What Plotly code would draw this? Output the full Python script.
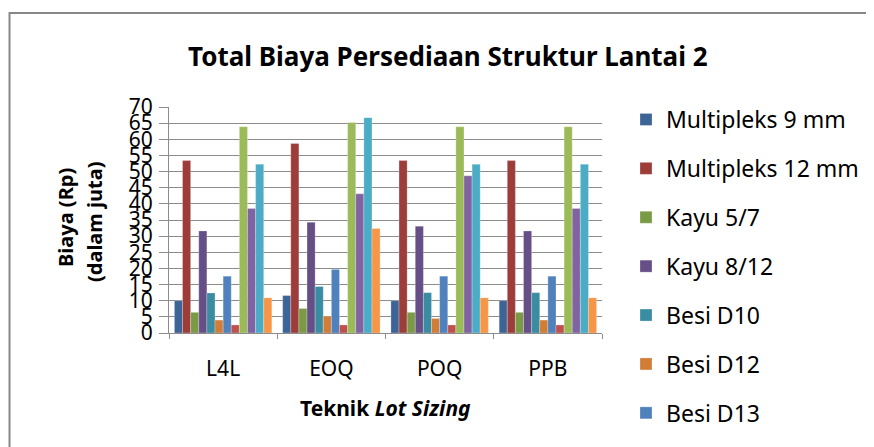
import plotly.graph_objects as go

categories = ["L4L", "EOQ", "POQ", "PPB"]

series_names = [
    "Multipleks 9 mm", "Multipleks 12 mm", "Kayu 5/7", "Kayu 8/12",
    "Besi D10", "Besi D12", "Besi D13", "Seri 8", "Seri 9", "Seri 10",
    "Seri 11", "Seri 12",
]
multipleks_9 = [10.0, 11.6, 10.0, 10.0]
multipleks_12 = [53.4, 58.7, 53.4, 53.4]
kayu_5_7 = [6.4, 7.6, 6.4, 6.4]
kayu_8_12 = [31.6, 34.3, 33.1, 31.6]
besi_d10 = [12.4, 14.4, 12.5, 12.5]
besi_d12 = [4.0, 5.2, 4.5, 4.0]
besi_d13 = [17.6, 19.7, 17.6, 17.6]
seri_8 = [2.5, 2.5, 2.5, 2.5]
seri_9 = [63.9, 65.2, 63.9, 63.9]
seri_10 = [38.6, 43.1, 48.7, 38.6]
seri_11 = [52.3, 66.7, 52.3, 52.3]
seri_12 = [10.9, 32.4, 10.9, 10.9]

all_values = [multipleks_9, multipleks_12, kayu_5_7, kayu_8_12, besi_d10,
              besi_d12, besi_d13, seri_8, seri_9, seri_10, seri_11, seri_12]
colors = ["#3D6496", "#9D3D3A", "#7B9A46", "#664E86", "#3A8CA3", "#D17D36",
          "#4F81BD", "#C0504D", "#9BBB59", "#8064A2", "#4BACC6", "#F79646"]
legend_visible = 7

FONT = "Noto Sans"

# page places the figure 8 px in from the top-left corner
OFF = 8
L, R, T, B = 169 - OFF, 602 - OFF, 107 - OFF, 333 - OFF
W, H = 874, 447
PW, PH = R - L, B - T


def px(x):
    return (x - OFF - L) / PW


def py(y):
    return (B - (y - OFF)) / PH


fig = go.Figure()
for i, (name, vals) in enumerate(zip(series_names, all_values)):
    fig.add_trace(go.Bar(
        x=categories, y=vals, name=name,
        marker=dict(color=colors[i], line=dict(color="rgba(255,255,255,0.5)", width=0.5)),
        showlegend=i < legend_visible,
        legendgroup=f"g{i}",
    ))

fig.update_layout(
    width=W, height=H,
    margin=dict(l=L, r=W - R, t=T, b=H - B),
    paper_bgcolor="white", plot_bgcolor="white",
    barmode="group", bargap=0.1, bargroupgap=0,
    font=dict(family=FONT, color="black"),
    showlegend=True,
    legend=dict(
        x=px(626), xanchor="left", y=py(98), yanchor="top",
        font=dict(size=23, family=FONT, color="black"),
        traceorder="grouped", tracegroupgap=16,
        itemwidth=30, bgcolor="rgba(0,0,0,0)", maxheight=1,
    ),
    annotations=[
        dict(text="<b>Total Biaya Persediaan Struktur Lantai 2</b>", xref="paper", yref="paper",
             x=px(448), y=py(56), xanchor="center", yanchor="middle", showarrow=False,
             font=dict(size=26, family=FONT, color="black")),
        dict(text="<b>Biaya (Rp)</b>", xref="paper", yref="paper",
             x=px(65), y=py(218), xanchor="center", yanchor="middle", textangle=-90,
             showarrow=False, font=dict(size=20, family=FONT, color="black")),
        dict(text="<b>(dalam juta)</b>", xref="paper", yref="paper",
             x=px(94), y=py(222), xanchor="center", yanchor="middle", textangle=-90,
             showarrow=False, font=dict(size=20, family=FONT, color="black")),
        dict(text="<b>Teknik <i>Lot Sizing</i></b>", xref="paper", yref="paper",
             x=px(385), y=py(408), xanchor="center", yanchor="middle",
             showarrow=False, font=dict(size=21, family=FONT, color="black")),
    ],
    shapes=[
        dict(type="rect", xref="paper", yref="paper",
             x0=px(9.5), x1=px(890), y0=py(470), y1=py(13),
             line=dict(color="#888888", width=2), fillcolor="rgba(0,0,0,0)", layer="below"),
    ],
)

fig.update_yaxes(
    range=[0, 70], dtick=5, tick0=0, automargin=False,
    showgrid=True, gridcolor="#8c8c8c", gridwidth=1,
    showline=True, linecolor="#8c8c8c", linewidth=1,
    ticks="outside", ticklen=9, tickcolor="#8c8c8c",
    tickfont=dict(size=21, family=FONT, color="black"),
    ticklabelstandoff=2, zeroline=False,
)
fig.update_xaxes(
    automargin=False,
    showline=True, linecolor="#8c8c8c", linewidth=1,
    ticks="outside", ticklen=5, tickcolor="#8c8c8c", tickson="boundaries",
    tickfont=dict(size=21, family=FONT, color="black"),
    ticklabelstandoff=17,
)

fig.write_html("out.html")
